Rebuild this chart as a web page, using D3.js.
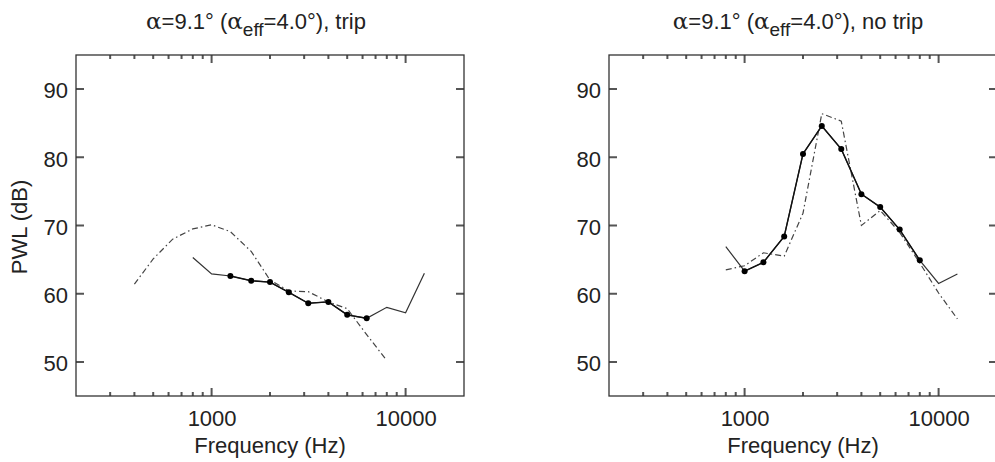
<!DOCTYPE html>
<html><head><meta charset="utf-8">
<script src="https://cdn.jsdelivr.net/npm/d3@7"></script>
<style>
html,body{margin:0;padding:0;background:#fff;}
svg text{font-family:"Liberation Sans",Arial,Helvetica,sans-serif;fill:#222;}
</style></head>
<body>
<svg id="c" width="995" height="462"></svg>
<script>
// ---- data ----
const yTicks = [50,60,70,80,90];
const xTickLabels = [1000,10000];

// trip panel
const tripSolidF = [800,1000,1250,1600,2000,2500,3150,4000,5000,6300,8000,10000,12500];
const tripSolidV = [65.3,62.9,62.6,61.9,61.7,60.2,58.6,58.8,56.9,56.4,58.0,57.2,63.0];
const tripDotF   = [1250,1600,2000,2500,3150,4000,5000,6300];
const tripDotV   = [62.6,61.9,61.7,60.2,58.6,58.8,56.9,56.4];
const tripDashF  = [400,500,630,800,1000,1250,1600,2000,2500,3150,4000,5000,6300,8000];
const tripDashV  = [61.4,65.1,68.0,69.5,70.1,69.1,66.2,62.0,60.4,60.3,58.8,57.8,54.0,50.2];

// no-trip panel
const noSolidF = [800,1000,1250,1600,2000,2500,3150,4000,5000,6300,8000,10000,12500];
const noSolidV = [66.9,63.3,64.6,68.4,80.5,84.6,81.2,74.6,72.7,69.4,64.9,61.5,62.9];
const noDotF   = [1000,1250,1600,2000,2500,3150,4000,5000,6300,8000];
const noDotV   = [63.3,64.6,68.4,80.5,84.6,81.2,74.6,72.7,69.4,64.9];
const noDashF  = [800,1000,1250,1600,2000,2500,3150,4000,5000,6300,8000,10000,12500];
const noDashV  = [63.5,64.1,66.0,65.5,71.8,86.4,85.3,70.0,72.2,69.0,64.5,60.1,56.3];

const panels = [
  {left:76, right:464, title:"trip", titleX:256, ylabel:true,
   solid:[tripSolidF,tripSolidV], dots:[tripDotF,tripDotV], dash:[tripDashF,tripDashV]},
  {left:609, right:997, title:"no trip", titleX:798, ylabel:false,
   solid:[noSolidF,noSolidV], dots:[noDotF,noDotV], dash:[noDashF,noDashV]}
];

const plotTop = 55, plotBottom = 396;
const svg = d3.select("#c");

const minorTicks = [];
[100,1000,10000].forEach(d=>{ for(let k=2;k<=9;k++){ const v=d*k; if(v>200 && v<20000) minorTicks.push(v);} });

panels.forEach(p=>{
  const x = d3.scaleLog().domain([200,20000]).range([p.left,p.right]);
  const y = d3.scaleLinear().domain([45,95]).range([plotBottom,plotTop]);
  const g = svg.append("g");

  // tick labels via axes
  const bx = g.append("g").attr("transform",`translate(0,${plotBottom})`)
    .call(d3.axisBottom(x).tickValues(xTickLabels).tickFormat(d3.format("d")).tickSize(0).tickPadding(14));
  bx.selectAll("text").attr("font-size",22).attr("font-family","Liberation Sans, Arial, sans-serif");
  const ly = g.append("g").attr("transform",`translate(${p.left},0)`)
    .call(d3.axisLeft(y).tickValues(yTicks).tickSize(0).tickPadding(8));
  ly.selectAll("text").attr("font-size",22).attr("dy","0.40em").attr("font-family","Liberation Sans, Arial, sans-serif");
  g.selectAll(".domain").remove();
  g.selectAll(".tick line").remove();
  g.selectAll(".tick text").attr("fill","#222");

  // inward tick marks on all four sides, as one path
  const tp = d3.path();
  xTickLabels.map(v=>[v,8]).concat(minorTicks.map(v=>[v,4])).forEach(([v,len])=>{
    const px = x(v);
    tp.moveTo(px,plotBottom); tp.lineTo(px,plotBottom-len);
    tp.moveTo(px,plotTop);    tp.lineTo(px,plotTop+len);
  });
  yTicks.forEach(v=>{
    const py = y(v);
    tp.moveTo(p.left,py);  tp.lineTo(p.left+8,py);
    tp.moveTo(p.right,py); tp.lineTo(p.right-8,py);
  });
  g.append("path").attr("d",tp.toString()).attr("fill","none")
    .attr("stroke","#555").attr("stroke-width",2);

  g.append("rect").attr("x",p.left).attr("y",plotTop).attr("width",p.right-p.left).attr("height",plotBottom-plotTop)
    .attr("fill","none").attr("stroke","#333").attr("stroke-width",1.3);

  const line = d3.line().x(d=>x(d[0])).y(d=>y(d[1]));
  const zip = (a)=>a[0].map((f,i)=>[f,a[1][i]]);

  g.append("path").attr("d",line(zip(p.dash))).attr("fill","none")
    .attr("stroke","#444").attr("stroke-width",1.2).attr("stroke-dasharray","6,3,1.5,3");
  g.append("path").attr("d",line(zip(p.solid))).attr("fill","none")
    .attr("stroke","#333").attr("stroke-width",1.2);
  g.append("path").attr("d",line(zip(p.dots))).attr("fill","none")
    .attr("stroke","#111").attr("stroke-width",1.4);
  g.selectAll("circle.dot").data(zip(p.dots)).enter().append("circle")
    .attr("cx",d=>x(d[0])).attr("cy",d=>y(d[1])).attr("r",3).attr("fill","#000");

  const title = svg.append("text").attr("x",p.titleX).attr("y",29).attr("text-anchor","middle").attr("font-size",22);
  title.append("tspan").attr("font-family","DejaVu Serif, Liberation Serif, serif").attr("font-size",23).text("α");
  title.append("tspan").text("=9.1° (");
  title.append("tspan").attr("font-family","DejaVu Serif, Liberation Serif, serif").attr("font-size",23).text("α");
  title.append("tspan").attr("font-size",19).attr("dy",7).text("eff");
  title.append("tspan").attr("dy",-7).text("=4.0°), " + p.title);

  svg.append("text").attr("x",(p.left+p.right)/2).attr("y",453).attr("text-anchor","middle")
    .attr("font-size",22).text("Frequency (Hz)");
  if(p.ylabel){
    svg.append("text").attr("transform",`translate(27,227) rotate(-90)`).attr("text-anchor","middle")
      .attr("font-size",22).text("PWL (dB)");
  }
});
</script>
</body></html>
